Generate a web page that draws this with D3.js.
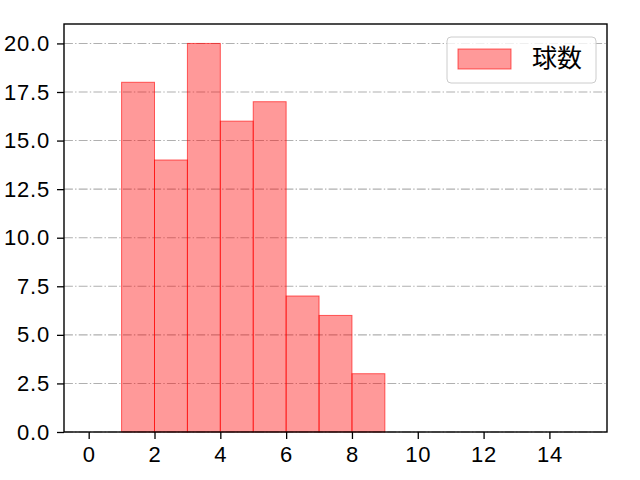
<!DOCTYPE html>
<html>
<head>
<meta charset="utf-8">
<script src="https://cdn.jsdelivr.net/npm/d3@7"></script>
<style>
body { margin: 0; background: #fff; }
text { font-family: "Liberation Sans", sans-serif; }
</style>
</head>
<body>
<main></main>
<script>
var binStarts = [1, 2, 3, 4, 5, 6, 7, 8];
var counts = [18, 14, 20, 16, 17, 7, 6, 3];
var xTicks = [0, 2, 4, 6, 8, 10, 12, 14];
var yTicks = [0, 2.5, 5, 7.5, 10, 12.5, 15, 17.5, 20];
var seriesName = "球数";

var width = 640, height = 480;
var mLeft = 64, mRight = 607, mTop = 24, mBottom = 432;

var svg = d3.select("main").append("svg")
    .attr("width", width)
    .attr("height", height);

var x = d3.scaleLinear().domain([-0.75, 15.75]).range([mLeft, mRight]);
var y = d3.scaleLinear().domain([0, 21]).range([mBottom, mTop]);

// grid
svg.append("g").selectAll("line")
    .data(yTicks)
  .enter().append("line")
    .attr("x1", mLeft).attr("x2", mRight)
    .attr("y1", function(d) { return y(d); })
    .attr("y2", function(d) { return y(d); })
    .style("stroke", "#b0b0b0")
    .style("stroke-width", 1.1)
    .style("stroke-dasharray", "8.9,2.2,1.4,2.2");

// bars
svg.append("g").selectAll("rect")
    .data(binStarts)
  .enter().append("rect")
    .attr("x", function(d) { return x(d); })
    .attr("y", function(d, i) { return y(counts[i]); })
    .attr("width", function(d) { return x(d + 1) - x(d); })
    .attr("height", function(d, i) { return y(0) - y(counts[i]); })
    .style("fill", "rgba(255,0,0,0.4)")
    .style("stroke", "rgba(255,0,0,0.6)")
    .style("stroke-width", 1);

// axes
var xAxis = svg.append("g")
    .attr("transform", "translate(0," + mBottom + ")")
    .call(d3.axisBottom(x).tickValues(xTicks).tickSize(7).tickPadding(7).tickFormat(d3.format("d")));
var yAxis = svg.append("g")
    .attr("transform", "translate(" + mLeft + ",0)")
    .call(d3.axisLeft(y).tickValues(yTicks).tickSize(7).tickPadding(7).tickFormat(d3.format(".1f")));
[xAxis, yAxis].forEach(function(a) {
  a.select(".domain").remove();
  a.selectAll("line").style("stroke", "#000").style("stroke-width", 1.3);
  a.selectAll("text").style("font-size", "22px").style("fill", "#000")
    .style("letter-spacing", "0.8px")
    .style("font-family", "'Liberation Sans', sans-serif");
});

svg.append("rect")
    .attr("x", mLeft).attr("y", mTop)
    .attr("width", mRight - mLeft).attr("height", mBottom - mTop)
    .style("fill", "none")
    .style("stroke", "#000")
    .style("stroke-width", 1.4);

// legend
var lg = svg.append("g");
lg.append("rect")
    .attr("x", 447).attr("y", 37).attr("width", 149).attr("height", 46).attr("rx", 4)
    .style("fill", "rgba(255,255,255,0.8)")
    .style("stroke", "#cccccc");
lg.append("rect")
    .attr("x", 458).attr("y", 49).attr("width", 53).attr("height", 20)
    .style("fill", "rgba(255,0,0,0.4)")
    .style("stroke", "rgba(255,0,0,0.6)");
lg.append("text")
    .attr("x", 532).attr("y", 67)
    .text(seriesName)
    .style("font-size", "25px")
    .style("font-family", "'Noto Sans CJK JP', sans-serif");
</script>
</body>
</html>
